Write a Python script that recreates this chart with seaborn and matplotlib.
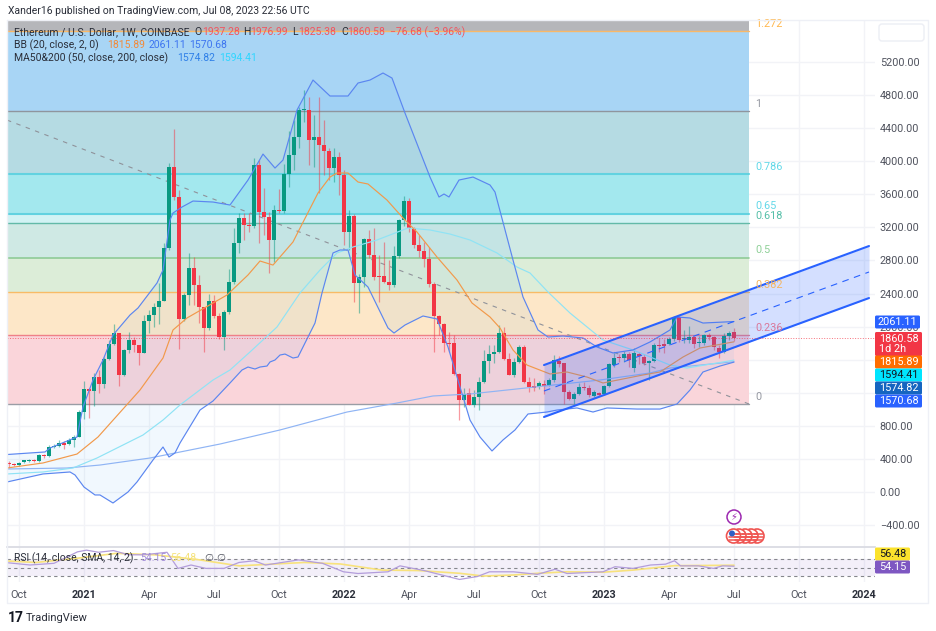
import matplotlib
matplotlib.use('Agg')
from matplotlib import pyplot as plt
from matplotlib.patches import Circle, FancyBboxPatch
import seaborn as sns
import numpy as np

# weekly candles, oct 2020 - jul 2023
opens = [351,339,326,363,375,387,375,447,435,544,
 556,592,580,629,665,967,1245,1221,1390,1306,
 1608,1789,1922,1415,1717,1838,1777,1680,2067,2140,
 2237,2309,2950,3929,3567,2092,2382,2708,2503,2237,
 1983,2309,2128,1874,2176,2539,3010,3313,3228,3216,
 3953,3385,3325,3047,3409,3397,3845,4074,4292,4618,
 4618,4256,4292,4195,4123,3917,4050,3833,3143,3337,
 2527,2599,3059,2865,2611,2611,2539,2503,2853,3288,
 3518,3192,2986,2914,2817,2515,2128,2031,1801,1801,
 1427,1112,1197,1052,1149,1330,1584,1668,1693,1922,
 1608,1415,1572,1753,1330,1282,1269,1306,1294,1354,
 1584,1560,1209,1124,1185,1269,1257,1161,1197,1185,
 1282,1535,1632,1620,1668,1499,1668,1632,1560,1584,
 1777,1789,1789,1850,2116,1850,1838,1874,1801,1801,
 1898,1874,1741,1693,1886,1937.28]
highs = [375,351,363,387,399,399,459,459,568,580,
 629,617,653,689,991,1342,1257,1439,1475,1632,
 1838,2031,1922,1729,1934,1874,1777,2140,2200,2285,
 2527,3010,3978,4389,3651,2406,2890,2841,2624,2237,
 2394,2382,2164,2200,2696,3192,3373,3373,3373,4038,
 4014,3675,3385,3470,3663,3966,4364,4497,4655,4860,
 4776,4558,4776,4497,4159,4159,4111,3893,3409,3361,
 2636,3071,3168,3192,2865,3023,2805,2974,3301,3579,
 3554,3204,3107,3023,2962,2539,2140,2043,1934,1898,
 1439,1257,1257,1233,1390,1717,1777,1777,2019,1995,
 1680,1620,1777,1777,1390,1378,1342,1354,1378,1656,
 1644,1560,1233,1209,1318,1330,1294,1233,1209,1294,
 1560,1680,1668,1705,1693,1741,1693,1668,1596,1801,
 1862,1850,1874,2128,2128,1959,2007,1886,1886,1910,
 1922,1886,1777,1922,1947,1976.99]
lows = [290,314,314,351,363,363,363,411,423,532,
 544,520,568,544,665,883,895,1040,1197,1257,
 1596,1777,1282,1402,1680,1693,1535,1680,1922,1995,
 2031,2309,2926,3530,1729,2067,2261,2261,2043,1693,
 1959,2104,1850,1717,2152,2515,2890,3047,3143,3192,
 3010,3107,2648,2781,3373,3373,3687,3893,4159,4473,
 3953,3929,3615,3833,3772,3748,3591,2986,2926,2297,
 2164,2478,2829,2563,2297,2527,2442,2478,2829,3216,
 3143,2950,2841,2720,2478,1693,1898,1693,1693,1415,
 870,1028,1052,1028,991,1318,1439,1560,1680,1596,
 1415,1390,1560,1318,1209,1221,1245,1185,1282,1330,
 1511,1064,1112,1064,1173,1233,1149,1149,1161,1173,
 1269,1511,1572,1572,1511,1451,1548,1535,1354,1572,
 1693,1680,1777,1826,1814,1801,1801,1741,1753,1777,
 1838,1717,1620,1680,1838,1825.38]
closes = [339,326,351,381,387,375,447,435,544,556,
 592,568,629,665,967,1245,1221,1390,1306,1608,
 1789,1922,1415,1717,1838,1777,1680,2067,2140,2237,
 2309,2950,3929,3567,2092,2382,2708,2503,2237,1983,
 2309,2128,1874,2176,2539,3010,3313,3228,3216,3953,
 3385,3325,3047,3409,3397,3845,4074,4292,4618,4630,
 4256,4292,4195,4123,3917,4050,3833,3143,3337,2527,
 2599,3059,2865,2599,2599,2539,2503,2853,3288,3518,
 3192,2986,2914,2817,2515,2128,2031,1801,1789,1427,
 1112,1185,1052,1149,1330,1584,1668,1693,1922,1608,
 1415,1572,1753,1330,1269,1257,1318,1282,1354,1596,
 1548,1209,1124,1185,1269,1257,1173,1209,1173,1282,
 1548,1620,1620,1668,1596,1680,1644,1560,1584,1777,
 1765,1765,1850,2116,1838,1862,1874,1789,1814,1898,
 1874,1753,1693,1886,1922,1860.58]

# bollinger and moving averages as (week, price)
bb_up_w = [-0.4,7.2,8.2,13.6,14.8,16.8,18.8,20.8,24.2,25.8,29.6,30.8,32.2,32.8,34.6,36.8,40.8,44.2,47.8,50.8,53.2,54.8,57.6,60.8,64.2,67.8,69.8,72.2,74.8,76.6,79.2,84.2,86,87,88,90,92.8,96.2,97.2,100.8,102.8,105.8,107.8,110.8,114.8,117.6,120.8,124.8,128.2,132.2,133.6,136.2,138.8,145]
bb_up = [453,484,532,665,1028,1354,1596,1898,2140,2225,2527,2684,3288,3373,3446,3518,3506,3470,3772,4086,3917,4014,4618,4981,4788,4788,4945,4981,5066,5005,4582,3808,3567,3603,3567,3772,3808,3712,3627,2805,2358,1959,1874,1886,1862,1753,1681,1717,1814,1959,2116,2104,2043,2061.11]
bb_low_w = [-0.4,6.8,12.2,13.2,15,17.2,18.2,20.8,23.8,25.6,28.8,30.8,32,33.2,34.2,38.2,40.8,44.2,46.6,47.8,49.2,50.2,51.6,52.2,53.2,54.2,55.2,56.8,57.8,59.8,61.2,62.6,64.8,66.2,67.8,69.2,71.8,75.8,77,79.2,82.8,85.6,87.8,92.2,94.2,96.6,98.8,101.2,103.8,107.6,109.6,113.6,116.8,119.6,125.6,130.2,133.6,136.2,138.8,142.2,145]
bb_low = [121,218,242,206,60,-36,-36,-133,0,121,387,544,423,472,592,991,1100,1318,1475,1511,1487,1511,1523,1572,1596,1656,1668,1620,1632,1874,2043,2406,2890,2926,2926,2624,2478,1983,1922,2019,2128,2092,1753,870,665,496,629,750,943,967,991,1016,967,1016,1003,1003,1064,1233,1451,1523,1570.68]
bb_mid_w = [-0.4,6.8,13.6,17.8,21.2,26.2,30.8,32.8,35.6,43.6,47.8,50.2,52.8,56.8,57.8,61.8,64.2,65.6,67.8,69.8,71.8,75.6,78.8,81.6,85.6,89.6,92.6,96.2,98.2,100.8,103.6,108.2,111.6,115.6,118.8,126.8,130.2,134.8,138.2,145]
bb_mid = [290,351,459,665,895,1233,1620,1959,2104,2382,2624,2793,2744,3023,3143,3615,3808,3857,3857,3748,3724,3530,3313,3143,2841,2563,2285,2116,1983,1717,1535,1427,1451,1390,1318,1415,1451,1632,1741,1815.89]
ma50_w = [-0.4,6.8,12.8,17.6,22.8,26.8,30.8,34.2,40.8,44.2,48.2,53.6,58.2,62.2,65.6,68.8,73.6,79.8,84.2,88.2,92.2,97.6,101.6,104.2,107.8,112.2,118.8,124.8,132.2,135.6,145]
ma50 = [218,242,290,411,568,689,870,1052,1354,1475,1693,1995,2406,2684,2890,2962,3047,3192,3168,3119,3047,2890,2720,2648,2418,2164,1838,1717,1535,1499,1594.41]
ma200_w = [-0.4,11.6,18.2,28.2,42.2,54.2,67.6,77.6,84.8,92.2,118.2,128.2,132.2,145]
ma200 = [278,290,326,411,580,750,967,1076,1161,1185,1354,1439,1499,1574.82]

# rsi pane
rsi_w = [-0.4,4.2,9,13.7,15.5,17.9,20.9,23.9,26.9,31.6,33.8,36.4,39.4,43,46,49,51.3,57.9,62.7,66.9,69.8,75.8,78.2,83,90.1,93.7,96.1,100.9,105.7,109.2,111.6,118.8,121.2,124.8,128.3,131.3,133.1,134.3,137.9,140.9,142.7,145]
rsi = [62.5,57,61,88,92,87,91,81,81,87,49,57,49,49,63,67,57,69,61,41,37,41,55,44,23,30,41,41,35,47,37,41,53,49,57,59,67,55,55,49,55,54.15]
rsi_ma_w = [-0.4,5.4,13.7,21.5,29.2,37.6,46,51.9,59.1,66.3,74.6,81.8,90.1,94.9,100.9,105.7,111.6,118.8,124.8,133.1,140.3,145]
rsi_ma = [66.5,63,73,84.5,81,70,55,58.6,63,59.4,45,44,37.5,31,33.5,37.5,41,40,45,55.5,56,56.48]
rsi_levels = [70, 50, 30]

# fibonacci retracement
fib_names = ['1.272','1','0.786','0.65','0.618','0.5','0.382','0.236','0']
fib_prices = [5571,4607,3849,3367,3254,2835,2417,1900,1064]
fib_line_cols = ['#f9b868','#8f959e','#62d2e0','#62d2e0','#63baa8','#8fcb97','#f8bb66','#ef8088','#9a9da5']
fib_line_w = [1,1,1.5,1.5,1,1.2,1,1,1]
fib_text_cols = ['#ffb74d','#9598a1','#62d8e8','#62d8e8','#55bfa8','#8fd098','#f5b45e','#d9779a','#9598a1']
fib_fills = ['#a8d5f5','#b5dbe3','#a3e8ee','#d2f3f4','#cfe9e4','#dcedd8','#fde7c8','#fad5da']
fib_top = 5707
fib_x = [-0.4, 148]
trend_x = [-0.4, 148]
trend_y = [4497, 1064]

# parallel channel
chan_x = [107, 172]
chan_up = [1535, 2974]
chan_mid = [1221, 2660]
chan_low = [907, 2345]

yticks = [5200,4800,4400,4000,3600,3200,2800,2400,2000,1600,1200,800,400,0,-400]
hidden_ticks = [1600, 1200]  # covered by the price tags in the original
tick_weeks = [2,15,28,41,54,67,80,93,106,119,132,145,158,171]
tick_names = ['Oct','2021','Apr','Jul','Oct','2022','Apr','Jul','Oct','2023','Apr','Jul','Oct','2024']

sns.set_theme(style='white')
plt.rcParams['font.family'] = ['Roboto', 'DejaVu Sans']

W, H = 936, 631
fig = plt.figure(figsize=(W/100, H/100), dpi=100, facecolor='white')
ax = fig.add_axes([7/W, 1-546/H, 868/W, 526/H])
ax2 = fig.add_axes([7/W, 1-582/H, 868/W, 35/H], sharex=ax)
gridc = '#f2f3f7'

# fib bands
ax.fill_between(fib_x, fib_prices[0], fib_top, color='#b5b6ba', lw=0, zorder=1)
for k in range(len(fib_fills)):
    ax.fill_between(fib_x, fib_prices[k+1], fib_prices[k], color=fib_fills[k], lw=0, zorder=1)
for p, c, w in zip(fib_prices, fib_line_cols, fib_line_w):
    ax.plot(fib_x, [p, p], color=c, lw=w, zorder=2)
ax.plot(trend_x, trend_y, color='#8f929a', lw=0.8, ls=(0, (4, 5)), zorder=2.5)

# bollinger band fill
ax.fill(bb_up_w + bb_low_w[::-1], bb_up + bb_low[::-1], color='#2196f3', alpha=0.06, lw=0, zorder=1.5)

# candles
weeks = np.arange(len(opens))
closes_a, opens_a = np.array(closes), np.array(opens)
cols = np.where(closes_a >= opens_a, '#089981', '#f23645')
ax.vlines(weeks, lows, highs, colors=cols, lw=0.9, alpha=0.5, zorder=3)
ax.bar(weeks, np.maximum(np.abs(closes_a-opens_a), 16), bottom=np.minimum(closes_a, opens_a),
       width=0.78, color=cols, lw=0, zorder=3.1)

lw = 0.85
sns.lineplot(x=ma200_w, y=ma200, ax=ax, color='#8fb4f4', lw=lw, estimator=None, sort=False, zorder=4)
sns.lineplot(x=ma50_w, y=ma50, ax=ax, color='#8fe3f5', lw=lw, estimator=None, sort=False, zorder=4)
sns.lineplot(x=bb_mid_w, y=bb_mid, ax=ax, color='#f2994a', lw=lw, estimator=None, sort=False, zorder=4)
sns.lineplot(x=bb_up_w, y=bb_up, ax=ax, color='#5b86f0', lw=lw, estimator=None, sort=False, zorder=4)
sns.lineplot(x=bb_low_w, y=bb_low, ax=ax, color='#5b86f0', lw=lw, estimator=None, sort=False, zorder=4)

# channel
ax.fill_between(chan_x, chan_low, chan_up, color='#2962ff', alpha=0.2, lw=0, zorder=5)
ax.plot(chan_x, chan_up, color='#2962ff', lw=1.5, zorder=5.1)
ax.plot(chan_x, chan_low, color='#2962ff', lw=1.5, zorder=5.1)
ax.plot(chan_x, chan_mid, color='#2962ff', lw=0.8, ls=(0, (6, 5)), zorder=5.1)

ax.axhline(closes[-1], color='#f23645', lw=0.7, ls=':', alpha=0.7, zorder=5.2)

ax.set_xlim(-0.4, 173.2)
ax.set_ylim(-653, 5707)
ax.yaxis.tick_right()
ax.set_yticks(yticks)
ax.set_yticklabels(['' if v in hidden_ticks else f'{v:.2f}'.replace('-', '\u2212') for v in yticks],
                   fontsize=7.8, color='#50535e')
ax.tick_params(axis='y', length=0, pad=3.5)
ax.tick_params(axis='x', length=0, labelbottom=False)
ax.set_xlabel('')
ax.set_ylabel('')
ax.set_xticks(tick_weeks)
ax.grid(True, color=gridc, lw=1, zorder=0)
ax.set_axisbelow(True)
for s in ax.spines.values():
    s.set_visible(False)

# fib labels
for n, p, c in zip(fib_names, fib_prices, fib_text_cols):
    ax.annotate(n, (149.2, p), xytext=(0, 1.5), textcoords='offset points', fontsize=7.8, color=c, va='bottom', zorder=6)

# rsi
ax2.fill_between(fib_x[:1] + [173.2], rsi_levels[2], rsi_levels[0], color='#7e57c2', alpha=0.09, lw=0)
for v in rsi_levels:
    ax2.axhline(v, color='#85868c', lw=0.8, ls=(0, (3, 3)))
sns.lineplot(x=rsi_ma_w, y=rsi_ma, ax=ax2, color='#f8e27c', lw=1.2, estimator=None, sort=False)
sns.lineplot(x=rsi_w, y=rsi, ax=ax2, color='#b39ddb', lw=0.9, estimator=None, sort=False)
ax2.set_ylim(17, 99.4)
ax2.set_yticks([])
ax2.set_xticks(tick_weeks)
ax2.set_xticklabels(tick_names, fontsize=7.8, color='#50535e')
for lab in ax2.get_xticklabels():
    if lab.get_text().isdigit():
        lab.set_fontweight('bold')
        lab.set_color('#2a2e39')
ax2.tick_params(axis='x', length=0, pad=6)
ax2.set_xlabel('')
ax2.set_ylabel('')
ax2.grid(True, axis='x', color=gridc, lw=1)
ax2.set_axisbelow(True)
for s in ax2.spines.values():
    s.set_visible(False)
ax2.spines['top'].set_visible(True)
ax2.spines['top'].set_color('#d8dae2')

# overlay in pixel coordinates for the chrome
ov = fig.add_axes([0, 0, 1, 1], facecolor='none')
ov.set_xlim(0, W)
ov.set_ylim(H, 0)
ov.axis('off')
frame = '#eef0f6'
ov.plot([7, 928, 928, 7, 7], [20, 20, 603, 603, 20], color=frame, lw=1)
ov.add_patch(FancyBboxPatch((879, 24), 45, 17, boxstyle='round,pad=0,rounding_size=3', fc='white', ec='#eceef4', lw=1))


def txt(x, y, s, c='#131722', size=7.5, **kw):
    ov.text(x, y, s, color=c, fontsize=size, va='center', ha=kw.pop('ha', 'left'), **kw)


def tag(y, s, bg, fg='white', x0=875, x1=922, h=13):
    ov.add_patch(FancyBboxPatch((x0, y-h/2), x1-x0, h, boxstyle='round,pad=0,rounding_size=1.5', fc=bg, ec='none', zorder=8))
    ov.text((x0+x1)/2, y, s, color=fg, fontsize=7.8, ha='center', va='center', zorder=9)


txt(8, 11.5, 'Xander16 published on TradingView.com, Jul 08, 2023 22:56 UTC', '#2a2e39')
red = '#f2545f'
txt(14, 32, 'Ethereum / U.S. Dollar, 1W, COINBASE', '#2a2e39')
for x, s, c in [(194, 'O', '#2a2e39'), (202, '1937.28', red), (243, 'H', '#2a2e39'), (250, '1976.99', red),
                (292, 'L', '#2a2e39'), (298, '1825.38', red), (341, 'C', '#2a2e39'), (347, '1860.58', red),
                (390, '\u221276.68 (\u22123.96%)', red)]:
    txt(x, 32, s, c)
txt(14, 45, 'BB (20, close, 2, 0)', '#2a2e39')
txt(107, 45, '1815.89', '#f28a3a')
txt(149, 45, '2061.11', '#3d75f0')
txt(189, 45, '1570.68', '#3d75f0')
txt(14, 58, 'MA50&200 (50, close, 200, close)', '#2a2e39')
txt(177, 58, '1574.82', '#2f80e8')
txt(219, 58, '1594.41', '#2fd6ff')

tag(322, '2061.11', '#2962ff', x1=920)
ov.add_patch(FancyBboxPatch((875, 332), 47, 24, boxstyle='round,pad=0,rounding_size=1.5', fc='#f23645', ec='none', zorder=8))
ov.text(879, 338.5, '1860.58', color='white', fontsize=7.8, va='center', zorder=9)
ov.text(879, 349.5, '1d 2h', color='white', fontsize=7.8, va='center', zorder=9)
tag(362, '1815.89', '#ff6d00')
tag(375, '1594.41', '#00e5ff', fg='#131722')
tag(388, '1574.82', '#1565c0')
tag(401, '1570.68', '#2962ff')

txt(14, 558, 'RSI (14, close, SMA, 14, 2)', '#2a2e39')
txt(140, 558, '54.15', '#a08bd8')
txt(170, 558, '56.48', '#f5e27a')
txt(204, 558, '\u2205', '#50535e')
txt(216, 558, '\u2205', '#50535e')
tag(554, '56.48', '#fbe22c', fg='#131722', x1=910)
tag(567, '54.15', '#7e57c2', x1=910)

# event icons
ov.add_patch(Circle((734, 517), 7, fc='white', ec='#9c27b0', lw=1.1, zorder=7))
ov.text(734, 517, '\u26a1', color='#9c27b0', fontsize=7, ha='center', va='center', family='DejaVu Sans', zorder=8)
for cx in [757, 751, 745, 739, 733.5]:
    ov.add_patch(Circle((cx, 536), 7, fc='white', ec='#ef5350', lw=1.2, zorder=7))
    ov.plot([cx-3, cx+5.5], [533.5, 533.5], color='#ef5350', lw=1.1, zorder=7.1)
    ov.plot([cx-5, cx+5.5], [536.5, 536.5], color='#ef5350', lw=1.1, zorder=7.1)
    ov.plot([cx-4.5, cx+4.5], [539.5, 539.5], color='#ef5350', lw=1.1, zorder=7.1)
ov.add_patch(Circle((732, 533.5), 3, fc='#2f5fc4', ec='none', zorder=7.2))

# logo
txt(8, 618, '17', '#131722', 10, fontweight='bold')
txt(26, 618, 'TradingView', '#2a2e39', 8)

fig.savefig('out.png', dpi=100)
